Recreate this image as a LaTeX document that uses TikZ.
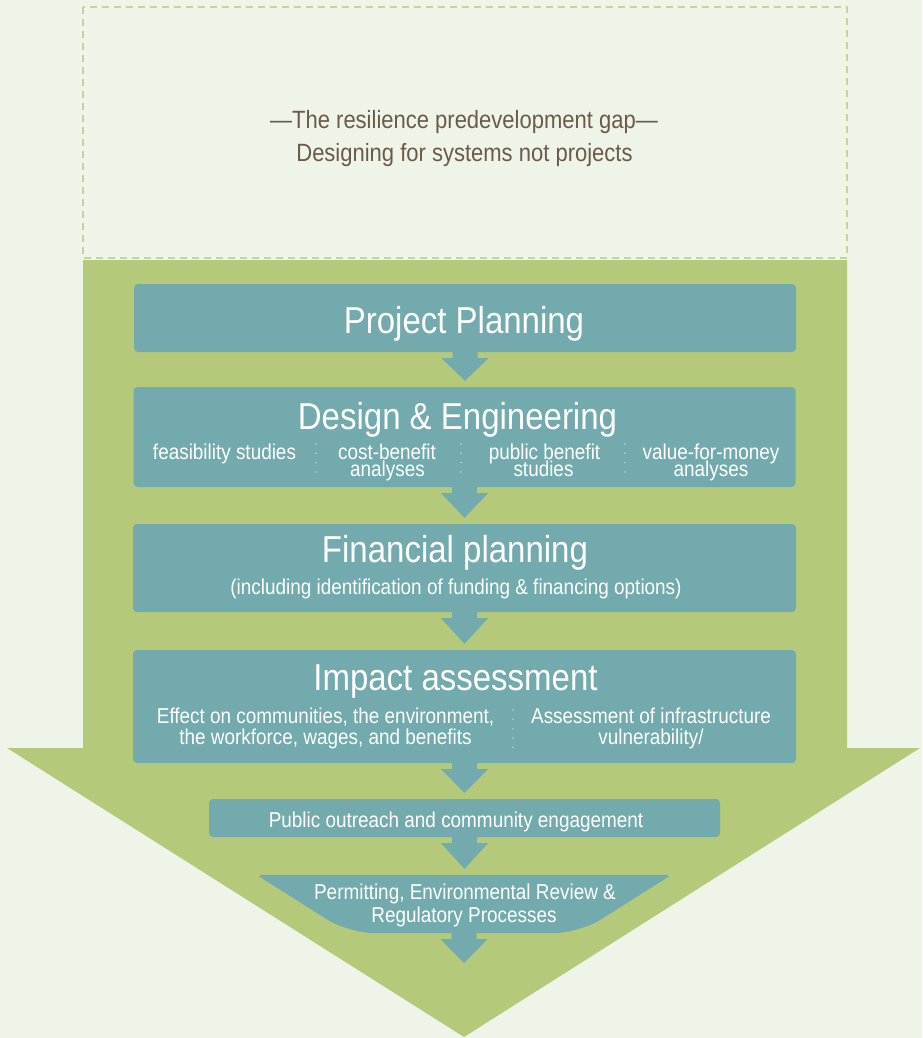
\documentclass[tikz,border=0pt]{standalone}
\usepackage{fontspec}
\setmainfont{Liberation Sans}[FakeStretch=0.88]
\usetikzlibrary{calc}
\definecolor{bgc}{HTML}{EFF4E9}
\definecolor{leaf}{HTML}{B5C97A}
\definecolor{teal2}{HTML}{72AAAD}
\definecolor{dashc}{HTML}{C5D49B}
\definecolor{brownt}{HTML}{6B5A48}
\definecolor{sepc}{HTML}{A6C9CA}
\begin{document}
\begin{tikzpicture}[x=1pt,y=-1pt,
  box/.style={fill=teal2, rounded corners=4pt, inner sep=0pt, draw=none},
  ttl/.style={anchor=base, text=white, font=\fontsize{37.5}{40}\selectfont, inner sep=0pt},
  sub/.style={anchor=base, text=white, font=\fontsize{21.5}{22}\selectfont, inner sep=0pt},
  gaptext/.style={anchor=base, text=brownt, font=\fontsize{25}{28}\selectfont, inner sep=0pt},
  sepline/.style={draw=sepc, line width=2.2pt, line cap=round, dash pattern=on 0pt off 9.3pt}
]
\useasboundingbox (0,0) rectangle (922,1038);
\fill[bgc] (0,0) rectangle (922,1038);

% the gap box
\draw[dashc, line width=2.5pt, dash pattern=on 7pt off 5pt] (83,7) rectangle (847,258);
\node[gaptext] (gap1) at (464,128.5) {—The resilience predevelopment gap—};
\node[gaptext] (gap2) at (464.5,161.5) {Designing for systems not projects};

% big green arrow
\fill[leaf] (83,260) -- (847,260) -- (847,748) -- (920,748) -- (464,1037) -- (7,748) -- (83,748) -- cycle;

% boxes
\node[box, minimum width=662pt, minimum height=68pt] (b1) at (465,318) {};
\node[box, minimum width=662pt, minimum height=100pt] (b2) at (464.5,437) {};
\node[box, minimum width=663pt, minimum height=88pt] (b3) at (464.5,568) {};
\node[box, minimum width=663pt, minimum height=113pt] (b4) at (464.5,706.5) {};
\node[box, minimum width=511pt, minimum height=38pt] (b5) at (464.5,818) {};
\node[inner sep=0pt, minimum width=412pt, minimum height=58pt] (b6) at (464,904) {};
\fill[teal2] ($(b6.north west)+(4,0)$) -- ($(b6.north west)+(1,1.5)$)
  [rounded corners=26pt] -- ($(b6.south west)+(91,0)$) -- ($(b6.south east)+(-91,0)$)
  [sharp corners] -- ($(b6.north east)+(-1,1.5)$) -- ($(b6.north east)+(-4,0)$) -- cycle;
\coordinate (pend) at (464.5,969);

% connectors
\foreach \s/\t in {b1/b2.north, b2/b3.north, b3/b4.north, b4/b5.north, b5/b6.north, b6/pend} {
  \fill[teal2] ($(\s.south)+(-12.5,-1)$) -- ($(\s.south)+(12.5,-1)$) -- ($(\s.south)+(12.5,6)$)
    -- ($(\s.south)+(23.5,6)$) -- ($(\s.south |- \t)+(0,-6)$) -- ($(\s.south)+(-23.5,6)$)
    -- ($(\s.south)+(-12.5,6)$) -- cycle;
}

% texts
\node[ttl] (t1) at (464,333) {Project Planning};

\node[ttl] (t2) at (457.5,429) {Design \& Engineering};
\node[sub] (s21) at (224.5,459) {feasibility studies};
\node[sub] (s22a) at (387,459) {cost-benefit};
\node[sub] (s22b) at (387.5,476.5) {analyses};
\node[sub] (s23a) at (544.5,459) {public benefit};
\node[sub] (s23b) at (543.5,476.5) {studies};
\node[sub] (s24a) at (711,459) {value-for-money};
\node[sub] (s24b) at (711,476.5) {analyses};
\draw[sepline] (316,444) -- (316,473);
\draw[sepline] (461,444) -- (461,473);
\draw[sepline] (625,444) -- (625,473);

\node[ttl] (t3) at (455,562) {Financial planning};
\node[sub] (s31) at (456,594) {(including identification of funding \& financing options)};

\node[ttl] (t4) at (455.5,690) {Impact assessment};
\node[sub] (s41a) at (325.5,723) {Effect on communities, the environment,};
\node[sub] (s41b) at (325.5,744) {the workforce, wages, and benefits};
\node[sub] (s42a) at (651,723) {Assessment of infrastructure};
\node[sub] (s42b) at (651,744) {vulnerability/};
\draw[sepline] (513,710) -- (513,748);

\node[sub] (t5) at (456,827) {Public outreach and community engagement};
\node[sub] (s6a) at (465,899) {Permitting, Environmental Review \&};
\node[sub] (s6b) at (464,922) {Regulatory Processes};
\end{tikzpicture}
\end{document}
